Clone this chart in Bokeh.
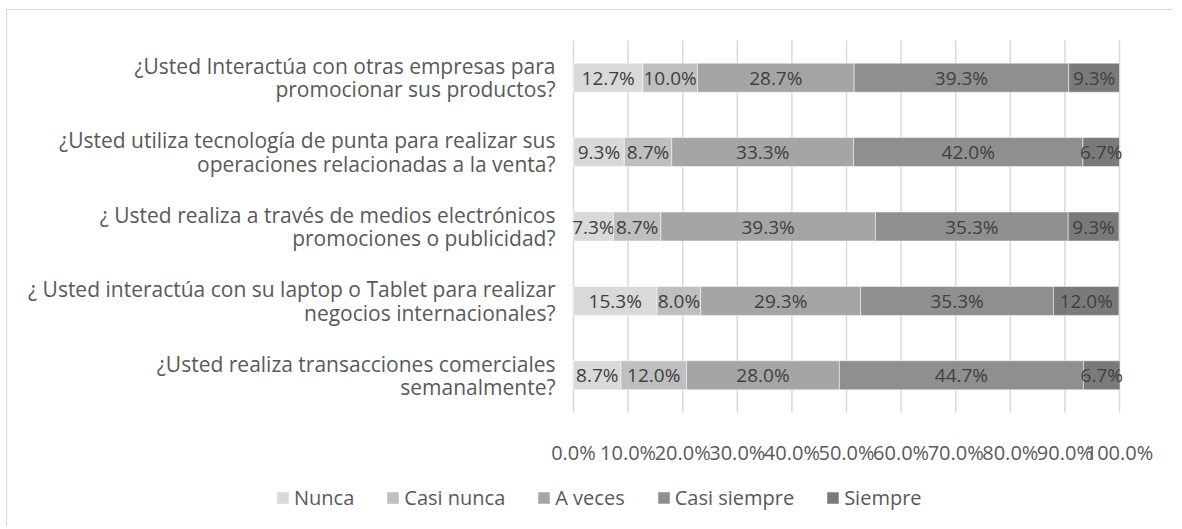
from bokeh.plotting import figure
from bokeh.models import (ColumnDataSource, FixedTicker, Legend, LegendItem,
                          LinearAxis, Range1d)
from bokeh.core.properties import value
from bokeh.embed import file_html
from bokeh.resources import INLINE

questions = [
    "¿Usted Interactúa con otras empresas para\npromocionar sus productos?",
    "¿Usted utiliza tecnología de punta para realizar sus\noperaciones relacionadas a la venta?",
    "¿ Usted realiza a través de medios electrónicos\npromociones o publicidad?",
    "¿ Usted interactúa con su laptop o Tablet para realizar\nnegocios internacionales?",
    "¿Usted realiza transacciones comerciales\nsemanalmente?",
]
series_names = ["Nunca", "Casi nunca", "A veces", "Casi siempre", "Siempre"]
nunca = [12.7, 9.3, 7.3, 15.3, 8.7]
casi_nunca = [10.0, 8.7, 8.7, 8.0, 12.0]
a_veces = [28.7, 33.3, 39.3, 29.3, 28.0]
casi_siempre = [39.3, 42.0, 35.3, 35.3, 44.7]
siempre = [9.3, 6.7, 9.3, 12.0, 6.7]
tick_values = [0, 10, 20, 30, 40, 50, 60, 70, 80, 90, 100]

colors = ["#d9d9d9", "#bfbfbf", "#a5a5a5", "#8f8f8f", "#7a7a7a"]
series = [nunca, casi_nunca, a_veces, casi_siempre, siempre]

FONT = "Open Sans"

# layout geometry (pixels)
W, H = 1167, 517
PLOT_L, PLOT_R = 566, 1112     # 0% and 100% in figure px
PLOT_T, PLOT_B = 30, 402       # top/bottom of category band in figure px
n = len(questions)
ypos = [n - i for i in range(n)]          # top question highest
xs = (PLOT_R - PLOT_L) / 100.0
ys = (PLOT_B - PLOT_T) / n
x_range = Range1d(-PLOT_L / xs, (W - PLOT_L) / xs)
y_range = Range1d(0.5 - (H - PLOT_B) / ys, n + 0.5 + PLOT_T / ys)

p = figure(
    width=W, height=H, x_range=x_range, y_range=y_range,
    min_border=0, x_axis_location=None, y_axis_location=None,
    output_backend="svg", toolbar_location=None,
    styles={"margin-left": "6px", "margin-top": "9px",
            "border-left": "1px solid #d9d9d9",
            "border-top": "1px solid #d9d9d9"},
)
p.grid.grid_line_color = None
p.outline_line_color = None

# vertical gridlines at the tick values
p.segment(x0=tick_values, x1=tick_values, y0=[0.5] * len(tick_values),
          y1=[n + 0.5] * len(tick_values), line_color="#d9d9d9", line_width=1.5)

renderers = []
left = [0.0] * n
for name, vals, col in zip(series_names, series, colors):
    right = [l + v for l, v in zip(left, vals)]
    mid = [l + v / 2 for l, v in zip(left, vals)]
    src = ColumnDataSource(dict(y=ypos, left=left, right=right, mid=mid,
                                lbl=[f"{v:.1f}%" for v in vals]))
    r = p.hbar(y="y", left="left", right="right", height=0.39, source=src,
               fill_color=col, line_color="white", line_width=0.5)
    renderers.append((name, r))
    p.text(x="mid", y="y", text="lbl", source=src, text_align="center",
           text_baseline="middle", text_font=value(FONT), text_font_size="19px",
           text_color="#404040")
    left = right

xaxis = LinearAxis(fixed_location=0.5, ticker=FixedTicker(ticks=tick_values))
xaxis.major_label_overrides = {t: f"{t:.1f}%" for t in tick_values}
xaxis.major_label_text_font = FONT
xaxis.major_label_text_font_size = "20px"
xaxis.major_label_text_color = "#595959"
xaxis.major_label_standoff = 20
xaxis.axis_line_color = None
xaxis.major_tick_line_color = None
xaxis.minor_tick_line_color = None
p.add_layout(xaxis, "below")

yaxis = LinearAxis(fixed_location=0, ticker=FixedTicker(ticks=ypos))
yaxis.major_label_overrides = {y: q for y, q in zip(ypos, questions)}
yaxis.major_label_text_font = FONT
yaxis.major_label_text_font_size = "21px"
yaxis.major_label_text_line_height = 0.84
yaxis.major_label_text_color = "#595959"
yaxis.major_label_text_align = "center"
yaxis.major_label_standoff = 12
yaxis.axis_line_color = None
yaxis.major_tick_line_color = None
yaxis.minor_tick_line_color = None
p.add_layout(yaxis, "left")

legend = Legend(items=[LegendItem(label=nm, renderers=[r]) for nm, r in renderers],
                orientation="horizontal", location=(268, 16))
legend.glyph_width = 15
legend.glyph_height = 15
legend.label_standoff = 4
legend.spacing = 31
legend.padding = 0
legend.margin = 0
legend.border_line_color = None
legend.background_fill_alpha = 0
legend.label_text_font = FONT
legend.label_text_font_size = "20px"
legend.label_text_color = "#595959"
p.add_layout(legend, "center")

open("out.html", "w").write(file_html(p, INLINE))
